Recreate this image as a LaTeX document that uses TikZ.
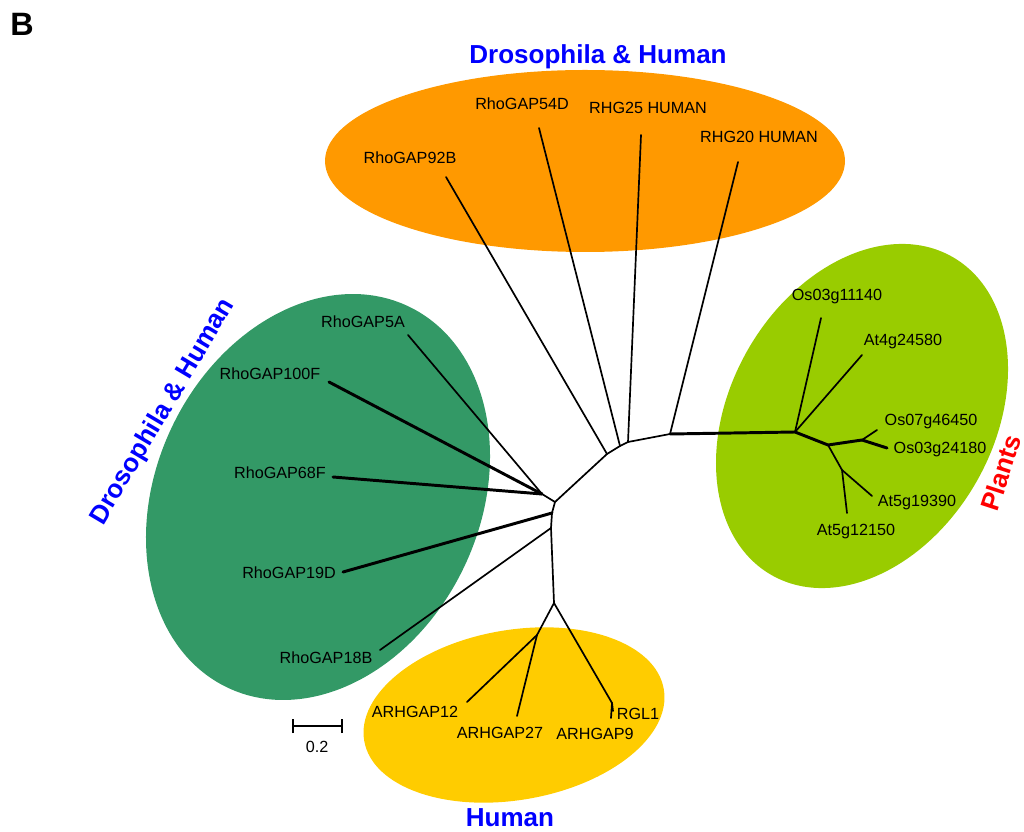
\documentclass[tikz,border=0pt]{standalone}
\usepackage{fontspec}
\setmainfont{Liberation Sans}
\usepackage{tikz}
\usetikzlibrary{positioning}
\definecolor{dmorange}{RGB}{255,153,0}
\definecolor{dmgreen}{RGB}{51,153,102}
\definecolor{plantgreen}{RGB}{153,204,0}
\definecolor{hsyellow}{RGB}{255,204,0}

\begin{document}
\begin{tikzpicture}[
  x=0.025cm, y=-0.025cm,
  leaf/.style={font=\fontsize{11.5}{13}\selectfont, inner sep=0pt},
  grp/.style={font=\fontsize{18.5}{22}\selectfont\bfseries, text=blue, inner sep=0pt},
  br/.style={line width=1.2pt, line cap=round, line join=round},
  thickbr/.style={line width=2.1pt, line cap=round, line join=round}
]
\useasboundingbox (0,0) rectangle (1024,832);

% group backgrounds
\fill[dmorange] (585,161) ellipse [x radius=260, y radius=91];
\fill[dmgreen, rotate around={64.7:(318,497)}] (318,497) ellipse [x radius=211, y radius=162];
\fill[plantgreen, rotate around={60.5:(862,416)}] (862,416) ellipse [x radius=183, y radius=132];
\fill[hsyellow, rotate around={9.8:(514,715)}] (514,715) ellipse [x radius=152, y radius=85];

% group titles
\node[font=\fontsize{23}{27}\selectfont\bfseries, inner sep=0pt] (tB) at (22,24) {B};
\node[grp] (tTop) at (598,57) {Drosophila \& Human};
\node[grp, rotate=59.3] (tLeft) at (163,412) {Drosophila \& Human};
\node[grp, text=red, rotate=72] (tPlants) at (1001,473) {Plants};
\node[grp] (tHuman) at (510,818) {Human};

% inner nodes
\coordinate (gB) at (542,494);
\coordinate (gA) at (555,502);
\coordinate (gC) at (552,513);
\coordinate (gD) at (551,528);
\coordinate (hH) at (554,603);
\coordinate (hI) at (537,635);
\coordinate (hJ) at (612,703);
\coordinate (r1) at (607,454);
\coordinate (r2) at (620,446);
\coordinate (r3) at (628,442);
\coordinate (r4) at (670,434);
\coordinate (pA) at (795,432);
\coordinate (pB) at (828,445);
\coordinate (pC) at (862,440);
\coordinate (pD) at (842,470);

% leaf ends
\coordinate (e92B) at (446,177);
\coordinate (e54D) at (539,128);
\coordinate (eR25) at (641,135);
\coordinate (eR20) at (738,162);
\coordinate (e5A) at (408,335);
\coordinate (e100F) at (329,382);
\coordinate (e68F) at (333,477);
\coordinate (e19D) at (343,572);
\coordinate (e18B) at (380,650);
\coordinate (eA12) at (467,702);
\coordinate (eA27) at (517,716);
\coordinate (eA9) at (611,718);
\coordinate (eRGL) at (613,711);
\coordinate (eOs11) at (821,318);
\coordinate (eAt4) at (862,355);
\coordinate (eOs07) at (877,430);
\coordinate (eOs24) at (887,448);
\coordinate (eAt19) at (872,496);
\coordinate (eAt12) at (847,513);

% leaf labels
\node[leaf] (n92B) at (410,158) {RhoGAP92B};
\node[leaf] (n54D) at (522,104) {RhoGAP54D};
\node[leaf] (nR25) at (648,108) {RHG25 HUMAN};
\node[leaf] (nR20) at (759,137) {RHG20 HUMAN};
\node[leaf] (n5A) at (363,322) {RhoGAP5A};
\node[leaf] (n100F) at (270,374) {RhoGAP100F};
\node[leaf] (n68F) at (280,473) {RhoGAP68F};
\node[leaf] (n19D) at (289,573) {RhoGAP19D};
\node[leaf] (n18B) at (326,658) {RhoGAP18B};
\node[leaf] (nA12) at (415,712) {ARHGAP12};
\node[leaf] (nA27) at (500,733) {ARHGAP27};
\node[leaf] (nA9) at (595,734) {ARHGAP9};
\node[leaf] (nRGL) at (638,714) {RGL1};
\node[leaf] (nOs11) at (837,297) {Os03g11140};
\node[leaf] (nAt4) at (903,342) {At4g24580};
\node[leaf] (nOs07) at (931,422) {Os07g46450};
\node[leaf] (nOs24) at (940,450) {Os03g24180};
\node[leaf] (nAt19) at (917,503) {At5g19390};
\node[leaf] (nAt12) at (856,532) {At5g12150};

% tree
\draw[br] (gB) -- (gA) -- (gC) -- (gD) -- (hH);
\draw[br] (gA) -- (r1) -- (r2) -- (r3) -- (r4);
\draw[thickbr] (r4) -- (pA);
\draw[br] (r1) -- (e92B);
\draw[br] (r2) -- (e54D);
\draw[br] (r3) -- (eR25);
\draw[br] (r4) -- (eR20);
\draw[br] (gB) -- (e5A);
\draw[thickbr] (gB) -- (e100F);
\draw[thickbr] (gB) -- (e68F);
\draw[thickbr] (gC) -- (e19D);
\draw[br] (gD) -- (e18B);
\draw[br] (hH) -- (hI);
\draw[br] (hI) -- (eA12);
\draw[br] (hI) -- (eA27);
\draw[br] (hH) -- (hJ);
\draw[br] (hJ) -- (eA9);
\draw[br] (hJ) -- (eRGL);
\draw[br] (pA) -- (eOs11);
\draw[br] (pA) -- (eAt4);
\draw[thickbr] (pA) -- (pB) -- (pC);
\draw[br] (pC) -- (eOs07);
\draw[thickbr] (pC) -- (eOs24);
\draw[br] (pB) -- (pD) -- (eAt12);
\draw[br] (pD) -- (eAt19);

% scale bar
\coordinate (sL) at (293,726);
\coordinate (sR) at (342,726);
\draw[br, line cap=butt] (sL) -- (sR);
\draw[br, line cap=butt] ([yshift=-5]sL) -- ([yshift=5]sL);
\draw[br, line cap=butt] ([yshift=-5]sR) -- ([yshift=5]sR);
\node[leaf] (nScale) at (317,747) {0.2};
\end{tikzpicture}
\end{document}
